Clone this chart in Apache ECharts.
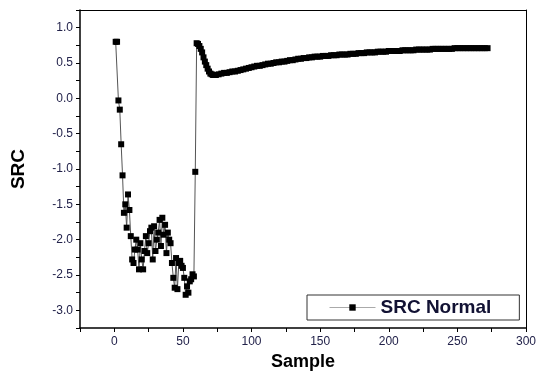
<!DOCTYPE html>
<html>
<head>
<meta charset="utf-8">
<script src="https://cdn.jsdelivr.net/npm/echarts@6/dist/echarts.min.js"></script>
<style>
html,body{margin:0;padding:0;background:#fff;}
#chart{width:539px;height:376px;}
</style>
</head>
<body>
<div id="chart"></div>
<script>
// Sample index (x) and SRC value (y)
var samples = [
  1,2,3,4,5,6,7,8,9,10,11,12,13,14,15,16,17,18,19,20,
  21,22,23,24,25,26,27,28,29,30,31,32,33,34,35,36,37,38,39,40,
  41,42,43,44,45,46,47,48,49,50,51,52,53,54,55,56,57,58,59,60,
  61,62,63,64,65,66,67,68,69,70,71,72,73,74,76,78,80,82,84,86,
  88,90,92,94,96,98,100,102,104,106,108,110,112,114,116,118,120,122,124,126,
  128,130,132,134,136,138,140,142,144,146,148,150,152,154,156,158,160,162,164,166,
  168,170,172,174,176,178,180,182,184,186,188,190,192,194,196,198,200,202,204,206,
  208,210,212,214,216,218,220,222,224,226,228,230,232,234,236,238,240,242,244,246,
  248,250,252,254,256,258,260,262,264,266,268,270,272
];
var srcNormal = [
  0.80,0.80,-0.03,-0.16,-0.65,-1.09,-1.62,-1.50,-1.83,-1.36,-1.58,-1.95,-2.28,-2.33,-2.14,-2.00,-2.14,-2.42,-2.05,-2.28,
  -2.42,-2.16,-1.95,-2.19,-2.05,-1.88,-1.83,-2.28,-1.81,-2.16,-2.00,-1.90,-1.72,-2.09,-1.69,-1.93,-1.79,-2.19,-1.90,-2.00,
  -2.05,-2.33,-2.54,-2.68,-2.26,-2.70,-2.33,-2.30,-2.37,-2.40,-2.54,-2.78,-2.66,-2.75,-2.59,-2.56,-2.49,-2.52,-1.04,0.78,
  0.77,0.74,0.70,0.65,0.58,0.52,0.47,0.42,0.38,0.35,0.34,0.33,0.33,0.33,0.34,0.35,0.36,0.36,0.37,0.38,
  0.38,0.39,0.40,0.41,0.42,0.43,0.44,0.45,0.46,0.46,0.47,0.48,0.49,0.49,0.50,0.51,0.51,0.52,0.52,0.53,
  0.54,0.54,0.55,0.56,0.56,0.57,0.57,0.58,0.58,0.59,0.59,0.59,0.60,0.60,0.60,0.61,0.61,0.61,0.62,0.62,
  0.62,0.62,0.63,0.63,0.63,0.64,0.64,0.64,0.65,0.65,0.65,0.65,0.66,0.66,0.66,0.66,0.67,0.67,0.67,0.67,
  0.67,0.68,0.68,0.68,0.68,0.68,0.69,0.69,0.69,0.69,0.69,0.69,0.70,0.70,0.70,0.70,0.70,0.70,0.70,0.70,
  0.71,0.71,0.71,0.71,0.71,0.71,0.71,0.71,0.71,0.71,0.71,0.71,0.71
];
var seriesName = 'SRC Normal';
var xLabelStep = 50;
var yLabelStep = 0.5;

var data = samples.map(function (s, i) { return [s, srcNormal[i]]; });

var labelColor = '#22224a';
var chart = echarts.init(document.getElementById('chart'), null, {renderer: 'canvas'});
chart.setOption({
  animation: false,
  backgroundColor: '#fff',
  grid: {left: 80, right: 13, top: 10, bottom: 46, containLabel: false},
  legend: {
    left: 307, top: 295,
    padding: [3, 28, 3, 22],
    borderColor: '#333', borderWidth: 1,
    backgroundColor: '#fff',
    itemWidth: 46, itemHeight: 8, itemGap: 4,
    textStyle: {fontFamily: 'Liberation Sans, Arial, sans-serif', fontWeight: 'bold', fontSize: 19, color: '#111133'},
    data: [{name: seriesName, itemStyle: {color: '#000'}, lineStyle: {color: '#aaa', width: 1}}]
  },
  xAxis: [{
    type: 'value', min: -25, max: 300, interval: 25, position: 'bottom',
    name: 'Sample', nameLocation: 'middle', nameGap: 25,
    nameTextStyle: {fontFamily: 'Liberation Sans, Arial, sans-serif', fontWeight: 'bold', fontSize: 18, color: '#000'},
    axisLine: {show: true, onZero: false, lineStyle: {color: '#000', width: 1.5}},
    axisTick: {show: true, inside: false, length: 4, lineStyle: {color: '#000'}},
    axisLabel: {margin: 8, fontFamily: 'Liberation Sans, Arial, sans-serif', fontSize: 12, color: labelColor,
      formatter: function (v) { return (v >= 0 && v % xLabelStep === 0) ? String(v) : ''; }},
    splitLine: {show: false}
  }, {
    type: 'value', min: -25, max: 300, interval: 25, position: 'top',
    axisLine: {show: true, onZero: false, lineStyle: {color: '#000', width: 1}},
    axisTick: {show: false}, axisLabel: {show: false}, splitLine: {show: false}
  }],
  yAxis: [{
    type: 'value', min: -3.25, max: 1.25, interval: 0.25, position: 'left',
    name: 'SRC', nameLocation: 'middle', nameGap: 52, nameRotate: 90,
    nameTextStyle: {fontFamily: 'Liberation Sans, Arial, sans-serif', fontWeight: 'bold', fontSize: 19, color: '#000'},
    axisLine: {show: true, onZero: false, lineStyle: {color: '#000', width: 1.5}},
    axisTick: {show: true, inside: false, length: 4, lineStyle: {color: '#000'}},
    axisLabel: {margin: 7, fontFamily: 'Liberation Sans, Arial, sans-serif', fontSize: 12, color: labelColor,
      formatter: function (v) {
        var r = Math.round(v / yLabelStep * 1000) / 1000;
        return (Math.abs(r - Math.round(r)) < 1e-6 && v > -3.2 && v < 1.2) ? v.toFixed(1) : '';
      }},
    splitLine: {show: false}
  }, {
    type: 'value', min: -3.25, max: 1.25, interval: 0.25, position: 'right',
    axisLine: {show: true, onZero: false, lineStyle: {color: '#000', width: 1}},
    axisTick: {show: false}, axisLabel: {show: false}, splitLine: {show: false}
  }],
  series: [{
    name: seriesName,
    type: 'line',
    xAxisIndex: 0, yAxisIndex: 0,
    data: data,
    symbol: 'rect', symbolSize: 6,
    showAllSymbol: true,
    itemStyle: {color: '#000'},
    lineStyle: {color: '#555', width: 1},
    emphasis: {disabled: true}
  }]
});
</script>
</body>
</html>
